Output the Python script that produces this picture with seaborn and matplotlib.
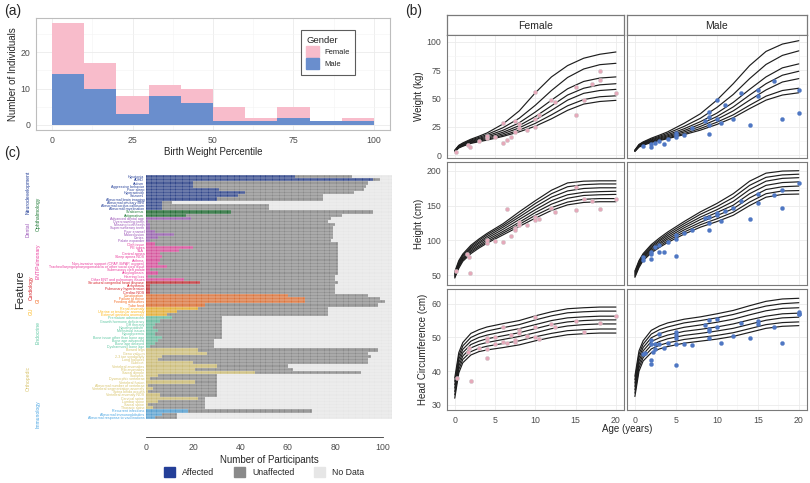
import numpy as np
import pandas as pd
import matplotlib.pyplot as plt
from matplotlib.patches import Patch
from matplotlib.ticker import MultipleLocator
import seaborn as sns

sns.set_theme(style='white')
plt.rcParams['font.family'] = ['Liberation Sans', 'DejaVu Sans']

# -------------------------------
# (a) birth weight percentile, counts per 10-percentile bin
# -------------------------------
bin_mid = [5, 15, 25, 35, 45, 55, 65, 75, 85, 95]
male_n = [14, 10, 3, 8, 6, 1, 1, 2, 1, 1]
female_n = [14, 7, 5, 3, 4, 4, 1, 3, 0, 1]

# -------------------------------
# (b) growth curves (7 reference percentiles) and patient measurements
# -------------------------------
curve_age = [0, 0.5, 1, 2, 3, 4, 6, 8, 10, 12, 14, 16, 18, 20]

wt_f_curves = [
    [3.0, 6.2, 7.8, 10.3, 11.8, 13.2, 16.5, 20.5, 25.5, 32.0, 39.5, 45.0, 47.3, 48.3],
    [3.2, 6.6, 8.2, 10.8, 12.4, 13.9, 17.5, 22.0, 28.0, 35.5, 43.5, 49.0, 51.5, 52.3],
    [3.4, 7.0, 8.7, 11.4, 13.1, 14.8, 18.8, 24.0, 31.0, 39.5, 48.5, 54.5, 57.0, 58.0],
    [3.6, 7.4, 9.2, 12.0, 13.9, 15.8, 20.2, 26.0, 34.0, 43.5, 53.0, 59.0, 62.0, 63.0],
    [3.8, 7.8, 9.7, 12.6, 14.7, 16.9, 21.9, 28.5, 38.0, 48.5, 58.5, 65.0, 68.0, 69.0],
    [4.0, 8.2, 10.2, 13.3, 15.6, 18.1, 24.2, 32.5, 44.0, 57.0, 68.5, 76.0, 79.8, 81.0],
    [4.2, 8.6, 10.7, 14.0, 16.6, 19.5, 27.5, 39.0, 55.0, 69.0, 79.0, 85.5, 89.0, 91.0],
]
wt_m_curves = [
    [3.2, 7.0, 8.7, 11.0, 12.8, 14.5, 18.0, 22.0, 27.0, 33.0, 41.0, 48.5, 53.0, 55.0],
    [3.4, 7.4, 9.1, 11.5, 13.4, 15.2, 19.0, 23.5, 29.0, 35.5, 44.0, 52.0, 57.0, 59.0],
    [3.6, 7.8, 9.6, 12.1, 14.1, 16.1, 20.3, 25.3, 31.5, 39.0, 48.5, 57.5, 64.5, 67.5],
    [3.8, 8.2, 10.1, 12.7, 14.9, 17.0, 21.6, 27.3, 34.0, 42.5, 53.0, 63.0, 70.5, 74.0],
    [4.0, 8.6, 10.6, 13.4, 15.7, 18.0, 23.2, 29.5, 37.0, 46.5, 58.0, 69.0, 77.0, 80.5],
    [4.2, 9.0, 11.1, 14.1, 16.6, 19.2, 25.3, 32.5, 42.0, 53.5, 67.5, 80.0, 88.0, 92.0],
    [4.4, 9.4, 11.6, 14.9, 17.6, 20.5, 28.0, 36.5, 48.5, 63.0, 79.0, 91.5, 98.0, 101.0],
]
ht_f_curves = [
    [46, 60, 70, 81, 89, 96, 108, 120, 132, 143, 151, 154.5, 155.5, 155.5],
    [47.5, 62, 72, 83, 91, 98, 110.5, 123, 136, 147, 155, 159, 160, 160],
    [49, 63.5, 73.5, 85, 93, 100.5, 113, 126, 140, 152, 160.5, 164.5, 165.5, 166],
    [50.5, 65.5, 75, 87, 95.5, 103, 116, 130, 144, 157, 165.5, 169, 170, 170.5],
    [52, 67, 77, 89, 97.5, 105.5, 119, 133.5, 148.5, 162, 171, 174.5, 175.5, 175.5],
    [53.5, 69, 79, 91, 100, 108, 121.5, 137, 153, 167, 177, 180, 181, 181],
    [55, 71, 80.5, 93, 102, 110, 124, 141, 157, 172, 182.5, 185, 185.5, 185.5],
]
ht_m_curves = [
    [47, 61, 71, 82, 90, 97, 109, 119, 127, 136, 150, 162, 166, 166.5],
    [48.5, 63, 73, 84, 92, 99.5, 112, 122.5, 131, 140.5, 155, 167, 171, 171.5],
    [50, 64.5, 74.5, 86, 94.5, 102, 115, 126, 135.5, 145.5, 161, 173, 177, 178],
    [51.5, 66, 76, 88, 96.5, 104.5, 118, 130, 140, 150.5, 167, 179, 183, 184],
    [53, 68, 78, 90, 99, 107, 121, 133.5, 144, 156, 173, 185, 189, 190],
    [54.5, 69.5, 79.5, 92, 101, 109.5, 124, 137.5, 148.5, 161.5, 179, 190.5, 194, 195],
    [56, 71, 81, 94, 103.5, 112, 127, 141, 153, 167, 185, 196.5, 199.5, 200],
]
hc_f_curves = [
    [32.0, 39.5, 42.5, 44.8, 45.8, 46.3, 47.0, 47.8, 49.0, 50.0, 50.8, 51.1, 51.3, 51.3],
    [33.0, 40.5, 43.5, 45.8, 46.8, 47.4, 48.2, 49.0, 50.2, 51.2, 52.0, 52.3, 52.5, 52.5],
    [34.0, 41.5, 44.5, 46.9, 47.9, 48.5, 49.4, 50.3, 51.4, 52.6, 53.4, 53.8, 54.0, 54.0],
    [35.0, 42.5, 45.5, 47.9, 48.9, 49.6, 50.5, 51.4, 52.6, 53.8, 54.6, 55.0, 55.2, 55.2],
    [36.0, 43.5, 46.5, 48.9, 50.0, 50.7, 51.7, 52.6, 53.8, 55.0, 55.8, 56.1, 56.3, 56.3],
    [37.0, 44.5, 47.5, 50.0, 51.1, 51.9, 52.9, 53.8, 55.2, 56.4, 57.3, 57.6, 57.8, 57.8],
    [38.0, 45.5, 48.5, 51.2, 52.3, 53.1, 54.1, 55.0, 56.4, 57.6, 58.5, 58.8, 59.0, 59.0],
]
hc_m_curves = [
    [32.5, 40.0, 43.0, 45.5, 46.6, 47.3, 48.3, 48.9, 49.5, 50.3, 51.5, 52.7, 53.3, 53.5],
    [33.5, 41.0, 44.0, 46.6, 47.7, 48.4, 49.4, 50.0, 50.6, 51.4, 52.6, 53.8, 54.4, 54.6],
    [34.5, 42.0, 45.0, 47.7, 48.8, 49.6, 50.6, 51.2, 51.9, 52.7, 53.9, 55.1, 55.8, 56.0],
    [35.5, 43.0, 46.0, 48.8, 49.9, 50.7, 51.8, 52.4, 53.1, 54.0, 55.2, 56.3, 57.0, 57.2],
    [36.5, 44.0, 47.0, 49.9, 51.1, 51.9, 53.0, 53.7, 54.5, 55.4, 56.7, 57.9, 58.6, 58.8],
    [37.5, 45.0, 48.0, 51.0, 52.3, 53.1, 54.3, 55.0, 55.8, 56.8, 58.1, 59.3, 60.0, 60.3],
    [38.5, 46.0, 49.0, 52.1, 53.4, 54.3, 55.4, 56.1, 57.0, 58.0, 59.4, 60.7, 61.4, 61.6],
]

wt_f_age = [0.2, 1.7, 1.9, 3, 4, 4, 5, 6, 6, 6.5, 7, 7.5, 7.5, 8, 8, 9, 10, 10, 10, 10.5,
            12, 12.5, 15, 15, 16, 17, 18, 18, 20]
wt_f = [3, 9, 7.5, 12, 15, 17, 16, 28, 11, 13, 15.5, 30, 20, 27, 23.5, 22.5, 56, 32, 25, 35,
        48.5, 47, 60, 35, 49, 63, 74, 66, 55]
wt_m_age = [1, 2, 2, 2.5, 3, 3.5, 4, 5, 5, 5, 6, 7, 8.5, 9, 9, 9, 9, 10, 10, 10.5, 11, 12,
            13, 14, 15, 15, 17, 18, 20, 20]
wt_m = [8, 10, 7.5, 11, 12.5, 10, 14, 16, 19.5, 17.5, 17.5, 23.5, 30, 38, 34, 26.5, 18.5,
        49, 31.5, 28, 44, 32, 55, 26.5, 57, 52, 65, 32, 57, 37]
ht_f_age = [0.2, 1.5, 1.8, 1.9, 4, 4, 5, 6, 6.5, 7, 7.5, 7.5, 8, 8, 9, 10, 10, 10.5, 12,
            12.5, 15, 15, 16, 17, 18, 20]
ht_f = [56.5, 80, 76.5, 53.5, 96, 100.5, 99.5, 97, 144.5, 106, 118.5, 115, 127, 122, 122,
        134, 129, 130, 146, 141, 177, 143.5, 159, 157, 144.5, 160]
ht_m_age = [1, 1, 2, 2, 2, 2.5, 3, 3, 3.5, 4, 5, 5, 5, 6, 7, 8.5, 9, 9, 9, 10, 10, 10.5,
            11, 12, 13, 14, 15, 15, 17, 18, 18, 20]
ht_m = [72, 75.5, 74, 80, 84, 91, 93, 84, 84, 98, 77.5, 101.5, 107.5, 111, 115, 132.5,
        115, 125, 134, 140, 136, 128, 142, 147, 156.5, 130.5, 154, 166.5, 165, 172, 146, 183]
hc_f_age = [0.3, 1.6, 1.8, 2, 3, 4, 4, 4, 4, 5, 5, 6, 6, 6.5, 7, 7.5, 7.5, 8, 8, 9, 10,
            10, 10, 10.5, 12, 12.5, 15, 16, 18, 20]
hc_f = [38, 45.7, 46.9, 37.1, 47, 46.7, 44, 49, 49.8, 48, 50.2, 48.7, 53, 48.4, 50.8, 48.7,
        49.2, 52.3, 51.3, 50.4, 56, 53, 50, 49.4, 54, 53, 55, 51.6, 54.4, 56.4]
hc_m_age = [1, 1.2, 2, 2, 2, 2, 2.2, 2.5, 2.5, 3, 3, 3.5, 4, 5, 5, 5, 5, 5, 6, 7, 8.5, 9,
            9, 9, 9, 10, 10, 10.5, 12, 13, 14, 15, 15, 17, 18, 20, 20, 20]
hc_m = [45.2, 45.4, 49.2, 48.2, 43.3, 42.1, 45.7, 46.7, 48.2, 51.1, 48, 47, 48.4, 51.6,
        50.6, 49.7, 48.2, 41.8, 48, 47.9, 53.8, 55.1, 52.6, 51.9, 49.7, 55.5, 53.1, 48.4,
        50.4, 54.3, 49.9, 54.9, 53.9, 53.1, 48.4, 57.5, 57, 56.8]

# -------------------------------
# (c) features per participant
# -------------------------------
n_participants = 104
groups = ['Neurodevelopment', 'Ophthalmology', 'Dental', 'ENT/Pulmonary', 'Cardiology',
          'GI', 'GU', 'Endocrine', 'Orthopedic', 'Immunology']
group_sizes = [11, 2, 8, 12, 4, 4, 3, 10, 19, 3]
features = [
    'Hypotonia', 'ADHD', 'Autism', 'Aggressive behavior', 'Poor sleep', 'Hyperactivity',
    'Seizures', 'Abnormal brain imaging', 'Abnormal pituitary MRI',
    'Abnormal corpus callosum', 'Abnormal myelination',
    'Strabismus', 'Astigmatism',
    'Advanced dental age', 'Overcrowding teeth', 'Missing tooth/teeth', 'Supernumerary teeth',
    'Poor enamel', 'Malocclusion', 'Caries', 'Palate expander',
    'Cleft issue', 'PE tubes', 'T&A', 'Central apnea', 'Sleep apnea NOS', 'Asthma',
    'Non-invasive support (CPAP, BiPAP, oxygen)',
    'Tracheo/laryngo/pharyngomalacia or other vocal cord issue',
    'Submucous cleft palate', 'Ankyloglossia', 'Hearing loss',
    'Other ENT and pulmonary issues',
    'Structural congenital heart disease', 'Arrhythmia', 'Pulmonary hypertension',
    'Cardiac NOS',
    'Constipation', 'Failure to thrive', 'Feeding difficulties', 'Tube feed',
    'Renal anomaly', 'Uterine or testicular anomaly', 'External genitalia anomaly',
    'Premature adrenarche', 'Growth hormone deficiency', 'GH therapy', 'Hypothyroidism',
    'Menstrual issues', 'Hypoglycemia', 'Bone issue other than bone age',
    'Bone age advanced', 'Bone age delayed', 'Dysharmonic bone age',
    'Bowed legs', 'Genu valgum', '2-3 toe syndactyly', 'Long halluces', 'Clubfoot',
    'Vertebral anomalies', 'Rib anomalies', 'Sacral dimple', 'Scoliosis',
    'Dysmorphic vertebrae', 'Vertebral fusion', 'Abnormal number of vertebrae',
    'Vertebral segmentation anomaly', 'Spina bifida occulta', 'Vertebral anomaly NOS',
    'Cervical spine', 'Lumbar spine', 'Sacral spine', 'Thoracic spine',
    'Recurrent infections', 'Abnormal immunoglobulins', 'Abnormal response to vaccinations',
]
affected = [
    63, 96, 20, 20, 31, 42, 39, 30, 7, 7, 7,
    36, 17,
    19, 1, 2, 2, 4, 12, 5, 2,
    4, 20, 14, 6, 7, 6, 5, 9, 2, 5, 1, 16,
    23, 2, 2, 2,
    60, 67, 67, 25,
    22, 13, 9,
    11, 6, 4, 3, 5, 4, 7, 5, 4, 2,
    22, 26, 7, 5, 20, 30, 21, 46, 5, 2, 21, 1, 3, 1, 6, 22, 5, 1, 3,
    18, 7, 4,
]
assessed = [
    87, 99, 94, 93, 92, 88, 75, 75, 11, 52, 52,
    96, 83,
    78, 77, 80, 79, 79, 79, 79, 78,
    81, 81, 81, 81, 81, 81, 81, 81, 81, 81, 80, 80,
    81, 80, 80, 80,
    94, 99, 101, 98,
    77, 77, 77,
    32, 32, 32, 32, 32, 32, 32, 29, 29, 29,
    98, 94, 95, 94, 94, 60, 62, 91, 30, 30, 30, 30, 30, 30, 30, 25, 25, 25, 25,
    70, 13, 13,
]

group_colors = {'Neurodevelopment': '#243f98', 'Ophthalmology': '#1e7a35', 'Dental': '#9b55b8',
                'ENT/Pulmonary': '#ea3b9c', 'Cardiology': '#d52128', 'GI': '#f36b22',
                'GU': '#fdb71a', 'Endocrine': '#5ec7a2', 'Orthopedic': '#d8c46c',
                'Immunology': '#48a4e2'}
PINK, BLUE = '#f8bccb', '#6a8ecd'
UNAFF, NODATA = '#8a8a8a', '#e6e6e6'
TICK = '#4d4d4d'

W, H = 810, 483
fig = plt.figure(figsize=(W / 100, H / 100), dpi=100)


def box(l, t, r, b):
    return fig.add_axes([l / W, 1 - b / H, (r - l) / W, (b - t) / H])


def ggplot_panel(ax, border='#bdbdbd'):
    ax.set_facecolor('white')
    for s in ax.spines.values():
        s.set_visible(True)
        s.set_color(border)
        s.set_linewidth(0.8)
    ax.grid(True, which='major', color='#ebebeb', lw=0.6)
    ax.grid(True, which='minor', color='#f4f4f4', lw=0.4)
    ax.set_axisbelow(True)
    ax.tick_params(which='minor', length=0)
    ax.tick_params(which='major', length=2.5, width=0.5, color='#333333',
                   labelsize=6.3, labelcolor=TICK, pad=1.5)


# ---------- (a) ----------
ax = box(36, 18, 390, 130)
hist_df = pd.DataFrame({'pct': bin_mid * 2,
                        'n': female_n + male_n,
                        'Gender': ['Female'] * len(bin_mid) + ['Male'] * len(bin_mid)})
sns.histplot(data=hist_df, x='pct', weights='n', hue='Gender', hue_order=['Female', 'Male'],
             multiple='stack', bins=list(range(0, 101, 10)),
             palette={'Female': PINK, 'Male': BLUE},
             alpha=1, edgecolor='none', linewidth=0, legend=False, ax=ax)
ax.set_xlim(-5, 105)
ax.set_ylim(-1.4, 29.4)
ax.set_xticks([0, 25, 50, 75, 100])
ax.set_yticks([0, 10, 20])
ax.xaxis.set_minor_locator(MultipleLocator(12.5))
ax.yaxis.set_minor_locator(MultipleLocator(5))
ggplot_panel(ax)
ax.set_xlabel('Birth Weight Percentile', fontsize=7, labelpad=2)
ax.set_ylabel('Number of Individuals', fontsize=7, labelpad=2)
leg = ax.legend(handles=[Patch(color=PINK, label='Female'), Patch(color=BLUE, label='Male')],
                title='Gender', loc='upper left', bbox_to_anchor=(0.737, 0.925), fontsize=5.5,
                title_fontsize=6.8, frameon=True, fancybox=False, edgecolor='#333333',
                handlelength=1.7, handleheight=1.9, borderpad=0.7, labelspacing=0.15,
                handletextpad=0.7)
leg._legend_box.align = 'left'
leg.get_frame().set_linewidth(0.8)

# ---------- (b) ----------
def curve_frame(curves):
    rows = [(a, v, i) for i, c in enumerate(curves) for a, v in zip(curve_age, c)]
    return pd.DataFrame(rows, columns=['age', 'value', 'pct'])


b_rows = [
    ('Weight (kg)', (wt_f_curves, wt_m_curves), ((wt_f_age, wt_f), (wt_m_age, wt_m)),
     (-2.6, 106), [0, 25, 50, 75, 100], 12.5),
    ('Height (cm)', (ht_f_curves, ht_m_curves), ((ht_f_age, ht_f), (ht_m_age, ht_m)),
     (36, 212.5), [50, 100, 150, 200], 25),
    ('Head Circumference (cm)', (hc_f_curves, hc_m_curves), ((hc_f_age, hc_f), (hc_m_age, hc_m)),
     (28.5, 64.5), [30, 40, 50, 60], 5),
]
col_x = [(446.7, 624), (626.7, 807)]
row_y = [(35, 158), (162, 285), (288.5, 410)]
pt_style = [dict(color='#e6a9ba', edgecolor='#c8c8c8', linewidth=0.3),
            dict(color='#4f77c3', edgecolor='#4f77c3', linewidth=0.2)]

for ci, name in enumerate(['Female', 'Male']):
    sx = box(col_x[ci][0], 15, col_x[ci][1], 35)
    sx.set_xticks([])
    sx.set_yticks([])
    for s in sx.spines.values():
        s.set_color('#7a7a7a')
        s.set_linewidth(0.9)
    sx.text(0.5, 0.45, name, ha='center', va='center', fontsize=7.5, transform=sx.transAxes)

for ri, (ylab, curves, pts, ylim, yt, ymin) in enumerate(b_rows):
    for ci in range(2):
        ax = box(col_x[ci][0], row_y[ri][0], col_x[ci][1], row_y[ri][1])
        sns.lineplot(data=curve_frame(curves[ci]), x='age', y='value', units='pct',
                     estimator=None, color='#1e1e1e', linewidth=0.85, ax=ax)
        sns.scatterplot(x=pts[ci][0], y=pts[ci][1], s=9, ax=ax, zorder=3, **pt_style[ci])
        ax.set_xlim(-1, 21)
        ax.set_ylim(*ylim)
        ax.set_xticks([0, 5, 10, 15, 20])
        ax.set_yticks(yt)
        ax.xaxis.set_minor_locator(MultipleLocator(2.5))
        ax.yaxis.set_minor_locator(MultipleLocator(ymin))
        ggplot_panel(ax, border='#7a7a7a')
        ax.set_xlabel('')
        ax.set_ylabel('')
        if ci == 0:
            ax.set_ylabel(ylab, fontsize=7, labelpad=2)
        else:
            ax.tick_params(axis='y', length=0, labelleft=False)
        if ri < 2:
            ax.tick_params(axis='x', length=0, labelbottom=False)
fig.text(626.7 / W, 1 - 429 / H, 'Age (years)', ha='center', va='center', fontsize=7)

# ---------- (c) ----------
feat_group = [g for g, n in zip(groups, group_sizes) for _ in range(n)]
c_df = pd.DataFrame({'feature': features, 'group': feat_group, 'affected': affected,
                     'assessed': assessed, 'total': n_participants})
ax = box(145.7, 175, 392.2, 419)
sns.barplot(data=c_df, x='total', y='feature', orient='y', color=NODATA, width=1,
            linewidth=0, errorbar=None, ax=ax)
sns.barplot(data=c_df, x='assessed', y='feature', orient='y', color=UNAFF, width=1,
            linewidth=0, errorbar=None, ax=ax)
sns.barplot(data=c_df, x='affected', y='feature', orient='y', hue='group', palette=group_colors,
            dodge=False, width=1, linewidth=0, errorbar=None, legend=False, ax=ax)
n_rows = len(features)
ax.vlines(np.arange(1, n_participants), -0.5, n_rows - 0.5, color='white', lw=0.25, alpha=0.8)
ax.hlines(np.arange(n_rows + 1) - 0.5, 0, n_participants, color='white', lw=0.3, alpha=0.8)
ax.set_xlim(0, n_participants)
ax.set_ylim(n_rows - 0.5, -0.5)
for s in ['top', 'right', 'left']:
    ax.spines[s].set_visible(False)
ax.spines['bottom'].set_position(('outward', 13))
ax.spines['bottom'].set_bounds(0, 100)
ax.spines['bottom'].set_color('#333333')
ax.spines['bottom'].set_linewidth(0.6)
ax.set_xticks([0, 20, 40, 60, 80, 100])
ax.tick_params(axis='x', length=3, width=0.6, color='#333333', labelsize=6.3, labelcolor=TICK, pad=1.5)
ax.set_yticks(range(n_rows))
ax.set_yticklabels(features, fontsize=2.6)
ax.tick_params(axis='y', length=0, pad=1)
for lab, g in zip(ax.get_yticklabels(), feat_group):
    lab.set_color(group_colors[g])
ax.set_xlabel('Number of Participants', fontsize=7, labelpad=2)
ax.set_ylabel('')

# group names along the left side
row_h = (419 - 175) / n_rows
group_x = [28, 38, 28, 38, 31, 38, 31, 38, 28, 38]
start = 0
for g, n, gx in zip(groups, group_sizes, group_x):
    yc = 175 + (start + n / 2) * row_h
    fig.text(gx / W, 1 - yc / H, g, rotation=90, ha='center', va='center', fontsize=3.6,
             color=group_colors[g])
    start += n
fig.text(20 / W, 1 - 290 / H, 'Feature', rotation=90, ha='center', va='center', fontsize=8)

fig.legend(handles=[Patch(color=group_colors['Neurodevelopment'], label='Affected'),
                    Patch(color=UNAFF, label='Unaffected'),
                    Patch(color=NODATA, label='No Data')],
           loc='center', bbox_to_anchor=(264 / W, 1 - 472 / H), ncol=3, frameon=False,
           fontsize=6.3, handlelength=1.3, handleheight=1.5, columnspacing=2.2, handletextpad=0.8)

# panel tags
fig.text(4 / W, 1 - 11 / H, '(a)', fontsize=10, va='center')
fig.text(405 / W, 1 - 11 / H, '(b)', fontsize=10, va='center')
fig.text(4 / W, 1 - 153 / H, '(c)', fontsize=10, va='center')

fig.savefig('out.png', dpi=100)
